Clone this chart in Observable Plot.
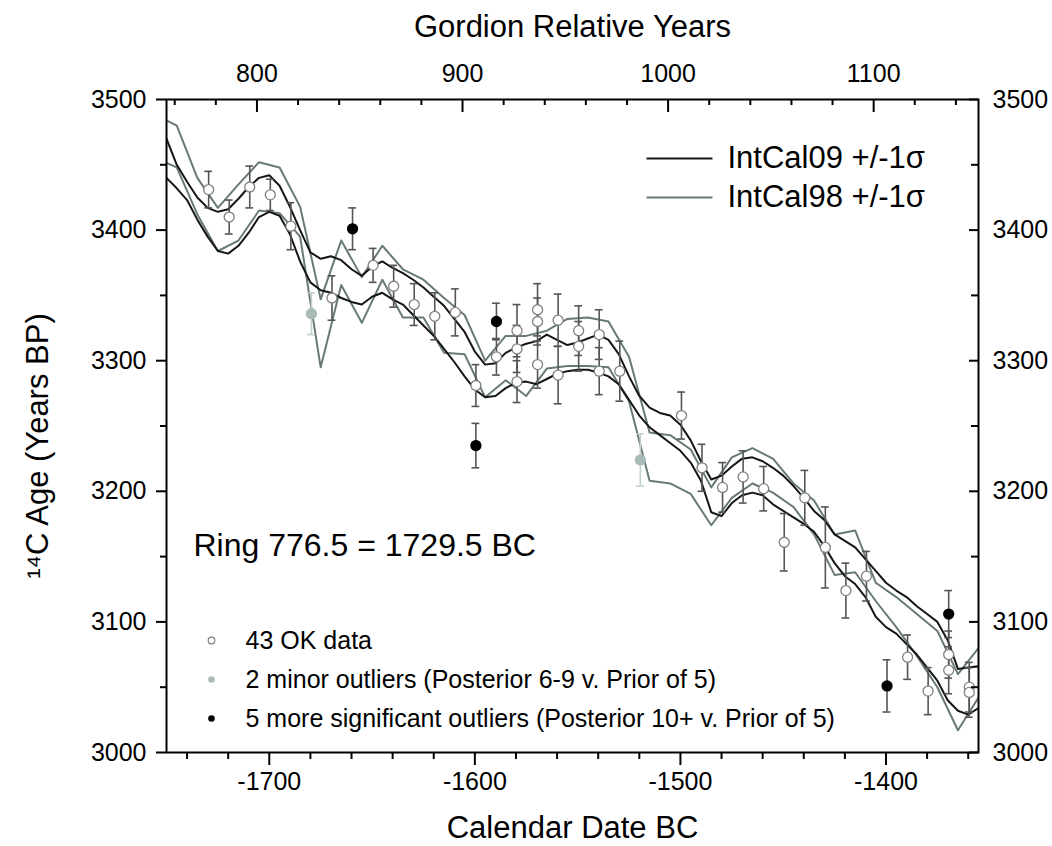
<!DOCTYPE html>
<html><head><meta charset="utf-8">
<script src="https://cdn.jsdelivr.net/npm/d3@7"></script>
<script src="https://cdn.jsdelivr.net/npm/@observablehq/plot@0.6"></script>
<style>
body{margin:0;background:#fff;}
#chart{width:1052px;height:846px;}
</style></head><body><div id="chart"></div>
<script>
// ---------- tick values ----------
const bottomMajorTicks = [-1700, -1600, -1500, -1400];
const bottomMinorTicks = [-1740, -1720, -1680, -1660, -1640, -1620, -1580, -1560, -1540, -1520, -1480, -1460, -1440, -1420, -1380, -1360];
const gordionMajorTicks = [800, 900, 1000, 1100];
const gordionMinorTicks = [760, 780, 820, 840, 860, 880, 920, 940, 960, 980, 1020, 1040, 1060, 1080, 1120, 1140];
const gordionOffset = 2506; // Ring 776.5 = 1729.5 BC
const ageMajorTicks = [3000, 3100, 3200, 3300, 3400, 3500];
const ageMinorTicks = [3050, 3150, 3250, 3350, 3450];

// ---------- IntCal09 (+/-1 sigma), 5-year steps ----------
const intcal09Dates = [-1750,-1745,-1740,-1735,-1730,-1725,-1720,-1715,-1710,-1705,-1700,-1695,-1690,-1685,-1680,-1675,-1670,-1665,-1660,-1655,-1650,-1645,-1640,-1635,-1630,-1625,-1620,-1615,-1610,-1605,-1600,-1595,-1590,-1585,-1580,-1575,-1570,-1565,-1560,-1555,-1550,-1545,-1540,-1535,-1530,-1525,-1520,-1515,-1510,-1505,-1500,-1495,-1490,-1485,-1480,-1475,-1470,-1465,-1460,-1455,-1450,-1445,-1440,-1435,-1430,-1425,-1420,-1415,-1410,-1405,-1400,-1395,-1390,-1385,-1380,-1375,-1370,-1365,-1360,-1355];
const intcal09Upper = [3470,3450,3437,3425,3417,3414,3416,3424,3433,3440,3442,3434,3418,3400,3383,3378,3380,3377,3370,3365,3372,3376,3371,3367,3362,3356,3349,3342,3332,3322,3307,3297,3298,3306,3310,3313,3315,3320,3316,3312,3314,3317,3320,3316,3305,3288,3273,3264,3260,3258,3251,3239,3223,3209,3212,3219,3225,3226,3223,3218,3212,3204,3195,3185,3178,3167,3162,3157,3148,3139,3130,3124,3119,3112,3106,3100,3086,3064,3065,3066];
const intcal09Lower = [3440,3432,3423,3408,3395,3384,3382,3388,3398,3410,3414,3411,3397,3376,3360,3354,3352,3348,3345,3343,3349,3352,3347,3343,3335,3327,3319,3309,3299,3288,3278,3272,3273,3279,3283,3284,3282,3286,3290,3292,3293,3293,3291,3288,3282,3270,3258,3249,3243,3237,3231,3222,3208,3184,3181,3191,3197,3199,3197,3190,3185,3180,3175,3169,3158,3145,3135,3129,3119,3104,3096,3091,3083,3075,3065,3055,3040,3032,3029,3034];

// ---------- IntCal98 (+/-1 sigma), decadal ----------
const intcal98Dates = [-1755,-1745,-1735,-1725,-1715,-1705,-1695,-1685,-1675,-1665,-1655,-1645,-1635,-1625,-1615,-1605,-1595,-1585,-1575,-1565,-1555,-1545,-1535,-1525,-1515,-1505,-1495,-1485,-1475,-1465,-1455,-1445,-1435,-1425,-1415,-1405,-1395,-1385,-1375,-1365,-1355];
const intcal98Upper = [3488,3480,3440,3417,3435,3452,3448,3418,3347,3392,3364,3388,3370,3362,3348,3335,3300,3319,3319,3323,3332,3333,3330,3303,3245,3243,3232,3203,3226,3233,3225,3206,3193,3167,3170,3130,3119,3106,3093,3060,3080];
const intcal98Lower = [3455,3448,3412,3384,3392,3415,3413,3395,3295,3358,3329,3362,3333,3333,3306,3305,3272,3285,3273,3294,3296,3296,3295,3269,3208,3206,3198,3174,3195,3206,3199,3188,3167,3136,3138,3116,3096,3074,3050,3017,3042];

// ---------- Gordion 14C measurements ----------
const pointDates = [-1729.5,-1719.5,-1709.5,-1699.5,-1689.5,-1679.5,-1669.5,-1659.5,-1649.5,-1639.5,-1629.5,-1619.5,-1609.5,-1599.5,-1599.5,-1589.5,-1589.5,-1579.5,-1579.5,-1579.5,-1569.5,-1569.5,-1569.5,-1559.5,-1559.5,-1549.5,-1549.5,-1539.5,-1539.5,-1529.5,-1519.5,-1499.5,-1489.5,-1479.5,-1469.5,-1459.5,-1449.5,-1439.5,-1429.5,-1419.5,-1409.5,-1399.5,-1389.5,-1379.5,-1369.5,-1369.5,-1369.5,-1359.5,-1359.5];
const pointAges = [3431,3410,3433,3427,3403,3336,3348,3401,3373,3357,3343,3334,3337,3281,3235,3330,3303,3323,3309,3284,3339,3330,3297,3331,3289,3323,3311,3320,3292,3292,3224,3258,3218,3203,3211,3202,3161,3195,3157,3124,3135,3051,3073,3047,3106,3075,3063,3050,3046];
const pointErrors = [14,13,16,12,18,16,17,16,13,16,16,18,18,16,17,14,14,20,18,16,20,18,18,20,22,19,19,19,18,23,20,18,18,19,20,17,22,21,31,21,19,20,17,18,18,18,18,19,19];
const pointTypes = ["ok","ok","ok","ok","ok","minor","ok","major","ok","ok","ok","ok","ok","ok","major","major","ok","ok","ok","ok","ok","ok","ok","ok","ok","ok","ok","ok","ok","ok","minor","ok","ok","ok","ok","ok","ok","ok","ok","ok","ok","major","ok","ok","major","ok","ok","ok","ok"];

// ---------- legend text ----------
const curveLegendLabels = ["IntCal09 +/-1\u03c3", "IntCal98 +/-1\u03c3"];
const pointLegendLabels = ["43 OK data", "2 minor outliers (Posterior 6-9 v. Prior of 5)", "5 more significant outliers (Posterior 10+ v. Prior of 5)"];

// ---------- build tables ----------
const curve = (dates, ages) => dates.map((d, i) => ({date: d, age: ages[i]}));
const points = pointDates.map((d, i) => ({date: d, age: pointAges[i], err: pointErrors[i], type: pointTypes[i]}));

const BLACK = "#161616", GRAY = "#687a77";
const fillOf = {ok: "#ffffff", minor: "#a9bbb8", major: "#000000"};
const strokeOf = {ok: "#808080", minor: "#a9bbb8", major: "#000000"};
const barOf = {ok: "#555555", minor: "#c3d0ce", major: "#555555"};
const capHalf = 1.9;

const W = 1052, H = 846, mL = 166, mR = 74, mT = 99, mB = 94;
const frameW = W - mL - mR, frameH = H - mT - mB;
const FONT = "'Liberation Sans', Arial, Helvetica, sans-serif";

const hline = {draw(ctx) { ctx.moveTo(-33, 0); ctx.lineTo(33, 0); }};
const T = {fill: "#000", lineAnchor: "middle"};

const marks = [
  // curves
  Plot.line(curve(intcal98Dates, intcal98Upper), {x: "date", y: "age", stroke: GRAY, strokeWidth: 2, clip: true}),
  Plot.line(curve(intcal98Dates, intcal98Lower), {x: "date", y: "age", stroke: GRAY, strokeWidth: 2, clip: true}),
  Plot.line(curve(intcal09Dates, intcal09Upper), {x: "date", y: "age", stroke: BLACK, strokeWidth: 2, clip: true}),
  Plot.line(curve(intcal09Dates, intcal09Lower), {x: "date", y: "age", stroke: BLACK, strokeWidth: 2, clip: true}),
  // error bars
  Plot.ruleX(points, {x: "date", y1: d => d.age - d.err, y2: d => d.age + d.err, stroke: d => barOf[d.type], strokeWidth: 1.6}),
  Plot.ruleY(points, {y: d => d.age + d.err, x1: d => d.date - capHalf, x2: d => d.date + capHalf, stroke: d => barOf[d.type], strokeWidth: 1.6}),
  Plot.ruleY(points, {y: d => d.age - d.err, x1: d => d.date - capHalf, x2: d => d.date + capHalf, stroke: d => barOf[d.type], strokeWidth: 1.6}),
  // points
  Plot.dot(points, {x: "date", y: "age", r: 5, fill: d => fillOf[d.type], stroke: d => strokeOf[d.type], strokeWidth: 1.3}),
  // frame
  Plot.frame({stroke: "#000", strokeWidth: 2}),
  // bottom axis
  Plot.axisX(bottomMajorTicks, {anchor: "bottom", tickSize: 13, tickPadding: 7, strokeWidth: 2, fontSize: 25, tickFormat: d => String(d), label: null}),
  Plot.axisX(bottomMinorTicks, {anchor: "bottom", tickSize: 7, strokeWidth: 2, tickFormat: () => "", label: null}),
  // top axis (Gordion relative years), ticks inward
  Plot.axisX(gordionMajorTicks.map(g => g - gordionOffset), {anchor: "top", tickSize: 0, tickPadding: 18, fontSize: 25, tickFormat: d => String(d + gordionOffset), label: null}),
  Plot.ruleX(gordionMajorTicks, {x: g => g - gordionOffset, insetBottom: frameH - 13, stroke: "#000", strokeWidth: 2}),
  Plot.ruleX(gordionMinorTicks, {x: g => g - gordionOffset, insetBottom: frameH - 6, stroke: "#000", strokeWidth: 2}),
  // left axis
  Plot.axisY(ageMajorTicks, {anchor: "left", tickSize: 10, tickPadding: 10, strokeWidth: 2, fontSize: 25, tickFormat: d => String(d), label: null}),
  Plot.axisY(ageMinorTicks, {anchor: "left", tickSize: 6, strokeWidth: 2, tickFormat: () => "", label: null}),
  // right axis, ticks inward
  Plot.axisY(ageMajorTicks, {anchor: "right", tickSize: 0, tickPadding: 14, fontSize: 25, tickFormat: d => String(d), label: null}),
  Plot.ruleY(ageMajorTicks, {y: d => d, insetLeft: frameW - 9, stroke: "#000", strokeWidth: 2}),
  Plot.ruleY(ageMinorTicks, {y: d => d, insetLeft: frameW - 7, stroke: "#000", strokeWidth: 2}),
  // axis titles
  Plot.text(["Gordion Relative Years"], {...T, frameAnchor: "top", dy: -72, textAnchor: "middle", fontSize: 31}),
  Plot.text(["Calendar Date BC"], {...T, frameAnchor: "bottom", dy: 76, textAnchor: "middle", fontSize: 31}),
  Plot.text(["\u00b9\u2074C Age (Years BP)"], {...T, frameAnchor: "left", dx: -128, dy: 20, rotate: -90, textAnchor: "middle", fontSize: 31}),
  // annotation
  Plot.text(["Ring 776.5 = 1729.5 BC"], {...T, frameAnchor: "top-left", dx: 27, dy: 446, textAnchor: "start", fontSize: 32}),
  // curve legend
  Plot.dot([0], {frameAnchor: "top-left", dx: 513, dy: 59, symbol: hline, stroke: BLACK, strokeWidth: 2, fill: "none"}),
  Plot.dot([0], {frameAnchor: "top-left", dx: 513, dy: 98, symbol: hline, stroke: GRAY, strokeWidth: 2, fill: "none"}),
  Plot.text([curveLegendLabels[0]], {...T, frameAnchor: "top-left", dx: 561, dy: 59, textAnchor: "start", fontSize: 31}),
  Plot.text([curveLegendLabels[1]], {...T, frameAnchor: "top-left", dx: 561, dy: 98, textAnchor: "start", fontSize: 31}),
  // point legend
  Plot.dot([0], {frameAnchor: "top-left", dx: 45, dy: 541, r: 3.3, fill: "#fff", stroke: "#808080", strokeWidth: 1.2}),
  Plot.dot([0], {frameAnchor: "top-left", dx: 45, dy: 580, r: 3.3, fill: "#a9bbb8"}),
  Plot.dot([0], {frameAnchor: "top-left", dx: 45, dy: 619, r: 3.3, fill: "#000"}),
  Plot.text([pointLegendLabels[0]], {...T, frameAnchor: "top-left", dx: 79, dy: 541, textAnchor: "start", fontSize: 25}),
  Plot.text([pointLegendLabels[1]], {...T, frameAnchor: "top-left", dx: 79, dy: 580, textAnchor: "start", fontSize: 25}),
  Plot.text([pointLegendLabels[2]], {...T, frameAnchor: "top-left", dx: 79, dy: 619, textAnchor: "start", fontSize: 25})
];

const chart = Plot.plot({
  width: W, height: H,
  marginLeft: mL, marginRight: mR, marginTop: mT, marginBottom: mB,
  x: {domain: [-1750, -1355], label: null},
  y: {domain: [3000, 3500], label: null},
  style: {fontFamily: FONT, background: "#fff", color: "#000", overflow: "visible"},
  marks
});
document.getElementById("chart").appendChild(chart);
</script>
</body></html>
